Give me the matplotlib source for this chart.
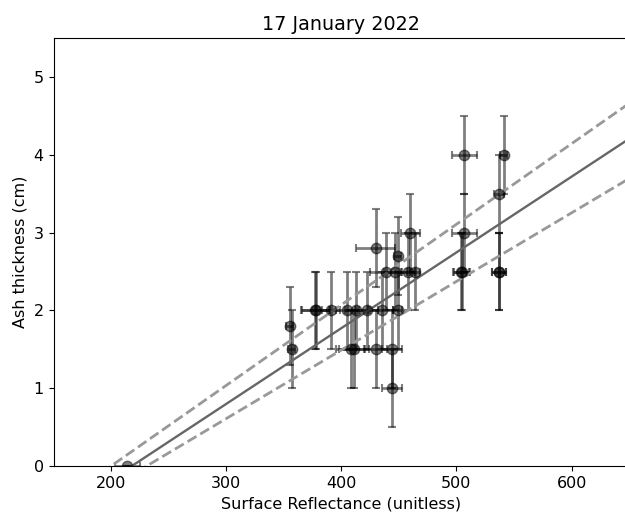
import matplotlib
matplotlib.use("Agg")
import matplotlib.pyplot as plt
import numpy as np

plt.rcParams['font.size'] = 11.5

# reflectance, thickness and their errors
refl = [214, 355, 357, 377, 378, 391, 405, 413, 422, 435, 449,
        408, 411, 430, 444, 444,
        439, 447, 458, 464, 430, 449, 460,
        504, 505, 507, 507, 537, 537, 537, 541]
thick = [0.0, 1.8, 1.5, 2.0, 2.0, 2.0, 2.0, 2.0, 2.0, 2.0, 2.0,
         1.5, 1.5, 1.5, 1.5, 1.0,
         2.5, 2.5, 2.5, 2.5, 2.8, 2.7, 3.0,
         2.5, 2.5, 3.0, 4.0, 2.5, 2.5, 3.5, 4.0]
refl_err = [11, 3, 3, 12, 12, 8, 10, 10, 10, 10, 4,
            13, 13, 10, 9, 8.7,
            14, 10, 6, 4, 17, 3, 8,
            7, 7, 11, 11, 6, 6, 4, 3]
thick_err = [0.0] + [0.5] * (len(refl) - 1)

# fit and bounds (slope, intercept)
fit = (0.00974, -2.124)
upper = (0.01036, -2.072)
lower = (0.00882, -2.037)

fig = plt.figure(figsize=(6.25, 5.16), dpi=100)
ax = fig.add_axes([0.0856, 0.0969, 0.921, 0.829])

for xi, yi, xe, ye in zip(refl, thick, refl_err, thick_err):
    ax.errorbar(xi, yi, xerr=xe, yerr=ye, fmt='o', color='k', alpha=0.5,
                ms=7.5, capsize=3, elinewidth=2, capthick=1.5)

xx = np.array([150, 650])
ax.plot(xx, fit[0] * xx + fit[1], color='0.4', lw=1.7)
ax.plot(xx, upper[0] * xx + upper[1], '--', color='0.6', lw=2)
ax.plot(xx, lower[0] * xx + lower[1], '--', color='0.6', lw=2)

ax.set_xlim(150, 650)
ax.set_ylim(0, 5.5)
ax.set_xticks([200, 300, 400, 500, 600])
ax.set_yticks([0, 1, 2, 3, 4, 5])
ax.set_title("17 January 2022")
ax.set_xlabel("Surface Reflectance (unitless)")
ax.set_ylabel("Ash thickness (cm)")

fig.savefig("out.png", dpi=100)
